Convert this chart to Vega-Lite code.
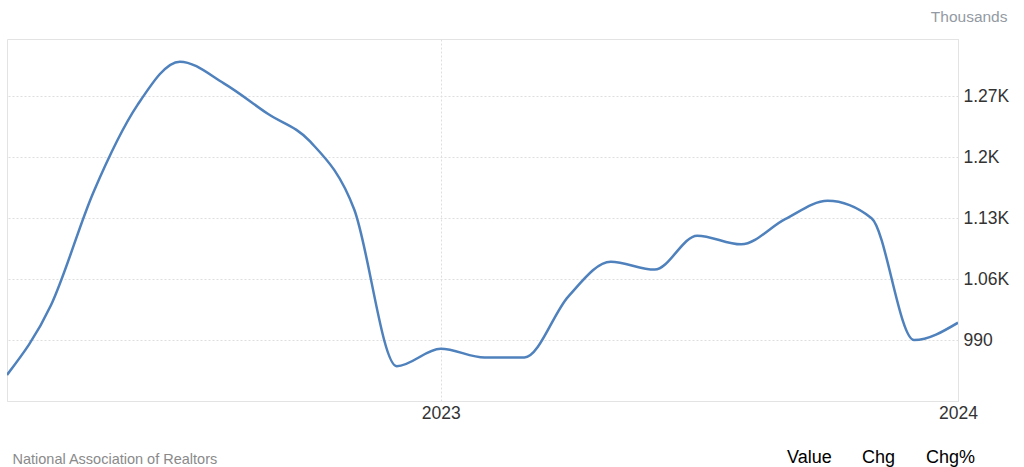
{
  "$schema": "https://vega.github.io/schema/vega-lite/v6.json",
  "autosize": "none",
  "width": 951,
  "height": 362,
  "padding": {"left": 7, "top": 39, "right": 66, "bottom": 66},
  "background": "white",
  "config": {
    "font": "Liberation Sans",
    "view": {"stroke": "#e3e3e3", "strokeWidth": 1}
  },
  "layer": [
    {
      "data": {
        "values": [
          {"date": "2022-03-01", "value": 950},
          {"date": "2022-04-01", "value": 1030},
          {"date": "2022-05-01", "value": 1160},
          {"date": "2022-06-01", "value": 1260},
          {"date": "2022-07-01", "value": 1310},
          {"date": "2022-08-01", "value": 1285},
          {"date": "2022-09-01", "value": 1250},
          {"date": "2022-10-01", "value": 1218},
          {"date": "2022-11-01", "value": 1140},
          {"date": "2022-12-01", "value": 960},
          {"date": "2023-01-01", "value": 980},
          {"date": "2023-02-01", "value": 970},
          {"date": "2023-03-01", "value": 970},
          {"date": "2023-04-01", "value": 1040},
          {"date": "2023-05-01", "value": 1080},
          {"date": "2023-06-01", "value": 1071},
          {"date": "2023-07-01", "value": 1110},
          {"date": "2023-08-01", "value": 1100},
          {"date": "2023-09-01", "value": 1129},
          {"date": "2023-10-01", "value": 1150},
          {"date": "2023-11-01", "value": 1130},
          {"date": "2023-12-01", "value": 990},
          {"date": "2024-01-01", "value": 1010}
        ]
      },
      "mark": {"type": "line", "interpolate": "monotone", "color": "#4f81bd", "strokeWidth": 2.5, "clip": true},
      "encoding": {
        "x": {
          "field": "date",
          "type": "temporal",
          "scale": {"domain": [{"year": 2022, "month": 3, "date": 1}, {"year": 2024, "month": 1, "date": 1}]},
          "axis": {
            "title": "National Association of Realtors",
            "titleAnchor": "start",
            "titleAlign": "left",
            "titleBaseline": "alphabetic",
            "titleX": 5,
            "titleY": 62,
            "titleFontSize": 14.5,
            "titleFontWeight": "normal",
            "titleColor": "#8a8a8a",
            "values": [{"year": 2023, "month": 1, "date": 1}, {"year": 2024, "month": 1, "date": 1}],
            "format": "%Y",
            "labelFontSize": 17.5,
            "labelColor": "#333333",
            "labelFlush": false,
            "labelBound": false,
            "labelOverlap": false,
            "labelPadding": 3,
            "ticks": false,
            "domain": true,
            "domainColor": "#e3e3e3",
            "grid": true,
            "gridColor": "#dedede",
            "gridDash": [2, 2]
          }
        },
        "y": {
          "field": "value",
          "type": "quantitative",
          "scale": {"domain": [920, 1336], "nice": false, "zero": false},
          "axis": {
            "orient": "right",
            "title": "Thousands",
            "titleAngle": 0,
            "titleAlign": "right",
            "titleBaseline": "alphabetic",
            "titleX": 49,
            "titleY": -18,
            "titleFontSize": 15.5,
            "titleFontWeight": "normal",
            "titleColor": "#939aa3",
            "values": [990, 1060, 1130, 1200, 1270],
            "labelExpr": "datum.value >= 1000 ? (datum.value / 1000) + 'K' : datum.value",
            "labelFontSize": 17.5,
            "labelColor": "#333333",
            "labelPadding": 5,
            "ticks": false,
            "domain": true,
            "domainColor": "#e3e3e3",
            "grid": true,
            "gridColor": "#dedede",
            "gridDash": [2, 2]
          }
        }
      }
    },
    {
      "data": {"values": [{"k": "Value"}, {"k": "Chg"}, {"k": "Chg%"}]},
      "mark": {"type": "point", "opacity": 0},
      "encoding": {
        "color": {
          "field": "k",
          "type": "nominal",
          "scale": {"domain": ["Value", "Chg", "Chg%"], "range": ["#3d9ae8", "#333333", "#333333"]},
          "legend": {
            "title": null,
            "orient": "none",
            "legendX": 762,
            "legendY": 410,
            "direction": "horizontal",
            "symbolSize": 0,
            "symbolOpacity": 0,
            "symbolStrokeWidth": 0,
            "labelOffset": 0,
            "columnPadding": 12,
            "labelFontSize": 18,
            "labelFont": "Liberation Sans",
            "labelLimit": 200,
            "encode": {
              "labels": {"update": {"fill": {"signal": "datum.label === 'Value' ? '#3d9ae8' : '#333333'"}}}
            }
          }
        }
      }
    }
  ]
}
